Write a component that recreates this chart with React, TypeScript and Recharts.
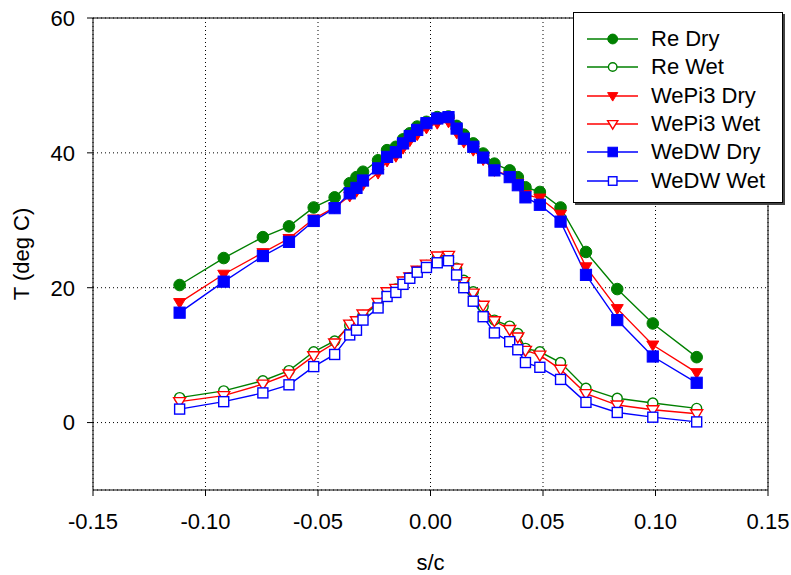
import { CartesianGrid, Line, LineChart, ReferenceLine, XAxis, YAxis } from 'recharts'

// s/c positions shared by all six runs
const sc = [
  -0.1115, -0.0919, -0.0745, -0.0629, -0.0519, -0.0426, -0.0359, -0.0329, -0.03, -0.0233, -0.0193, -0.0154,
  -0.0122, -0.0092, -0.0059, -0.0018, 0.003, 0.008, 0.0116, 0.0148, 0.019, 0.0234, 0.0284, 0.0352, 0.0388,
  0.0422, 0.0486, 0.0578, 0.0691, 0.083, 0.0988, 0.1183,
]

const reDry = [
  20.4, 24.4, 27.5, 29.1, 31.9, 33.4, 35.5, 36.4, 37.2, 38.9, 40.4, 40.9, 42.0, 42.9, 43.9, 44.6, 45.3, 45.4,
  44.0, 42.7, 41.4, 39.9, 38.4, 37.4, 36.4, 34.9, 34.2, 31.9, 25.3, 19.8, 14.7, 9.7,
]
const reWet = [
  3.7, 4.7, 6.2, 7.7, 10.5, 12.1, 14.4, 15.0, 15.9, 17.6, 19.2, 19.8, 20.8, 21.5, 22.4, 23.3, 24.4, 24.5, 22.9,
  21.1, 19.4, 17.2, 15.2, 14.3, 13.2, 11.0, 10.5, 8.9, 5.1, 3.6, 2.9, 2.1,
]
const wePi3Dry = [
  17.8, 22.0, 25.2, 27.3, 30.2, 31.9, 33.6, 34.3, 35.3, 37.0, 38.8, 39.5, 40.7, 41.8, 42.7, 43.7, 44.4, 44.6,
  43.0, 41.6, 40.4, 39.0, 37.4, 36.6, 35.5, 33.8, 33.3, 30.9, 23.1, 16.9, 11.5, 7.4,
]
const wePi3Wet = [
  3.1, 4.0, 5.7, 7.2, 9.9, 11.8, 14.6, 15.1, 16.1, 17.8, 19.4, 19.9, 21.0, 21.6, 22.6, 23.5, 24.7, 24.8, 22.9,
  20.9, 19.2, 17.4, 15.1, 13.8, 12.7, 10.7, 10.0, 7.9, 4.3, 2.6, 1.9, 1.3,
]
const weDwDry = [
  16.3, 20.9, 24.7, 26.8, 29.9, 31.8, 34.0, 34.8, 35.9, 37.7, 39.4, 40.1, 41.4, 42.5, 43.4, 44.4, 45.1, 45.3,
  43.6, 42.1, 40.9, 39.3, 37.4, 36.4, 35.2, 33.4, 32.3, 29.8, 21.9, 15.2, 9.8, 5.9,
]
const weDwWet = [
  2.0, 3.1, 4.4, 5.6, 8.3, 10.1, 13.0, 13.7, 15.2, 17.0, 18.7, 19.3, 20.5, 21.4, 22.3, 23.0, 23.7, 24.0, 21.9,
  20.0, 18.0, 15.7, 13.3, 12.0, 10.8, 8.9, 8.2, 6.4, 3.0, 1.5, 0.8, 0.1,
]

const xTicks = [-0.15, -0.1, -0.05, 0, 0.05, 0.1, 0.15]
const yTicks = [0, 20, 40, 60]

const GREEN = '#008000'
const RED = '#ff0000'
const BLUE = '#0000ff'
const FONT = '"Liberation Sans", Arial, sans-serif'
const FS = 22

type Shape = 'circle' | 'triangle' | 'square'
type SeriesDef = { key: string; name: string; color: string; shape: Shape; filled: boolean }

const series: SeriesDef[] = [
  { key: 'reDry', name: 'Re Dry', color: GREEN, shape: 'circle', filled: true },
  { key: 'reWet', name: 'Re Wet', color: GREEN, shape: 'circle', filled: false },
  { key: 'wePi3Dry', name: 'WePi3 Dry', color: RED, shape: 'triangle', filled: true },
  { key: 'wePi3Wet', name: 'WePi3 Wet', color: RED, shape: 'triangle', filled: false },
  { key: 'weDwDry', name: 'WeDW Dry', color: BLUE, shape: 'square', filled: true },
  { key: 'weDwWet', name: 'WeDW Wet', color: BLUE, shape: 'square', filled: false },
]

const rows = sc.map((s, i) => ({
  s,
  reDry: reDry[i],
  reWet: reWet[i],
  wePi3Dry: wePi3Dry[i],
  wePi3Wet: wePi3Wet[i],
  weDwDry: weDwDry[i],
  weDwWet: weDwWet[i],
}))

function marker(def: SeriesDef, cx: number, cy: number, k: number, scale = 1) {
  const fill = def.filled ? def.color : '#fff'
  const sw = def.filled ? 1 : 1.4
  if (def.shape === 'circle') {
    const r = (def.filled ? 5.8 : 5) * scale
    return <circle key={k} cx={cx} cy={cy} r={r} fill={fill} stroke={def.color} strokeWidth={sw} />
  }
  if (def.shape === 'triangle') {
    const w = 6 * scale
    const pts = `${cx - w},${cy - 4 * scale} ${cx + w},${cy - 4 * scale} ${cx},${cy + 6 * scale}`
    return <polygon key={k} points={pts} fill={fill} stroke={def.color} strokeWidth={sw} />
  }
  const h = (def.filled ? 5.6 : 5) * scale
  return <rect key={k} x={cx - h} y={cy - h} width={2 * h} height={2 * h} fill={fill} stroke={def.color} strokeWidth={sw} />
}

function LegendBox() {
  return (
    <div
      style={{
        position: 'absolute',
        left: 573,
        top: 12,
        width: 208,
        height: 189,
        border: '1px solid #000',
        background: '#fff',
        boxShadow: '2px 2px 0 #444',
        fontFamily: FONT,
        fontSize: FS,
        color: '#000',
      }}
    >
      {series.map((d, i) => (
        <div key={d.key} style={{ position: 'absolute', left: 0, top: 12 + i * 28.35, height: 28, display: 'flex', alignItems: 'center' }}>
          <svg width={74} height={28} style={{ display: 'block' }}>
            <line x1={13} x2={64} y1={14} y2={14} stroke={d.color} strokeWidth={1.4} />
            {marker(d, 38.7, 14, 0, 0.85)}
          </svg>
          <span style={{ marginLeft: 3, lineHeight: '28px', whiteSpace: 'nowrap' }}>{d.name}</span>
        </div>
      ))}
    </div>
  )
}

export default function App() {
  return (
    <div style={{ position: 'absolute', left: 0, top: 0, width: 791, height: 575, background: '#fff' }}>
      <LineChart
        width={791}
        height={575}
        data={rows}
        margin={{ top: 18, right: 23, bottom: 15, left: 0 }}
        style={{ fontFamily: FONT }}
      >
        <CartesianGrid stroke="#000" strokeDasharray="1 3" />
        <XAxis
          dataKey="s"
          type="number"
          domain={[-0.15, 0.15]}
          ticks={xTicks}
          tickFormatter={(v: number) => v.toFixed(2)}
          height={70}
          tickSize={6}
          tickMargin={17}
          stroke="#000"
          tick={{ fill: '#000', fontSize: FS, fontFamily: FONT }}
          label={{ value: 's/c', position: 'insideBottom', offset: -10, fill: '#000', fontSize: FS, fontFamily: FONT }}
        />
        <YAxis
          type="number"
          domain={[-10, 60]}
          ticks={yTicks}
          width={93}
          tickSize={6}
          tickMargin={12}
          stroke="#000"
          tick={{ fill: '#000', fontSize: FS, fontFamily: FONT }}
          label={{ value: 'T (deg C)', angle: -90, position: 'insideLeft', offset: 21, fill: '#000', fontSize: FS, fontFamily: FONT, style: { textAnchor: 'middle' } }}
        />
        <ReferenceLine y={60} stroke="#000" />
        <ReferenceLine x={0.15} stroke="#000" />
        {series.map((d) => (
          <Line
            key={d.key}
            dataKey={d.key}
            name={d.name}
            stroke={d.color}
            strokeWidth={1.4}
            isAnimationActive={false}
            dot={(p: any) => marker(d, p.cx, p.cy, p.index)}
            activeDot={false}
          />
        ))}
      </LineChart>
      <LegendBox />
    </div>
  )
}
